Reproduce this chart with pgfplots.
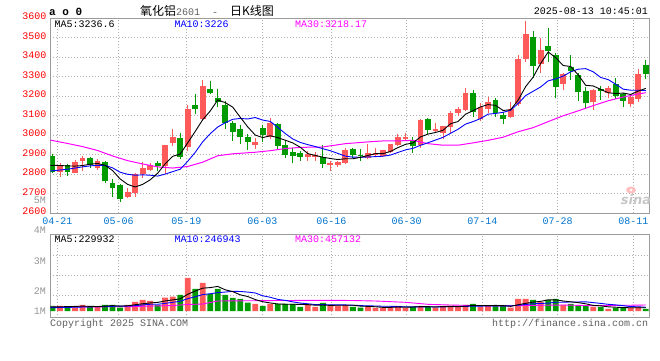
\documentclass[border=0pt]{standalone}
\usepackage{fontspec}
\usepackage{pgfplots}
\pgfplotsset{compat=1.18}
\usepackage{pgfplotstable}
\setmainfont{Liberation Mono}
\newfontfamily\mono{Liberation Mono}
\newfontfamily\cjk{Noto Sans CJK SC}
\newfontfamily\sansf{DejaVu Sans}
\newcommand\tf{\mono\fontsize{10}{12}\selectfont}
\definecolor{cred}{RGB}{255,90,90}
\definecolor{cgreen}{RGB}{0,155,0}
\definecolor{cblue}{RGB}{0,0,255}
\definecolor{cmag}{RGB}{255,0,255}
\definecolor{cdate}{RGB}{0,115,205}
\definecolor{cframe}{RGB}{155,155,155}
\definecolor{cgrid}{RGB}{175,175,175}
\definecolor{clab}{RGB}{150,150,150}
\definecolor{ccopy}{RGB}{95,95,95}

\pgfplotstableread{
i O H L C
1 2814 2860 2788 2848
3 2807 2872 2807 2865
4 2868 2894 2817 2885
6 2832 2877 2822 2868
10 2684 2731 2680 2708
11 2706 2805 2684 2800
12 2800 2863 2781 2831
13 2822 2860 2817 2846
15 2843 2949 2800 2949
16 2959 3031 2945 2993
18 2940 3154 2920 3133
20 3082 3282 3074 3251
27 2950 2988 2932 2964
29 2993 3091 2979 3065
34 2891 2920 2868 2903
35 2891 2916 2868 2897
37 2848 2868 2817 2860
38 2850 2868 2839 2863
39 2856 2933 2851 2923
42 2884 2957 2877 2908
43 2897 2933 2891 2908
44 2894 2923 2891 2923
45 2915 2954 2911 2954
46 2949 3005 2945 2991
47 2983 3010 2971 2991
49 2950 3082 2937 3077
51 3022 3062 3014 3031
52 3014 3048 2979 3048
53 3044 3125 3014 3113
54 3113 3147 3099 3133
55 3130 3244 3125 3215
57 3085 3164 3074 3147
58 3137 3198 3116 3171
61 3094 3171 3091 3137
62 3159 3410 3150 3393
63 3390 3586 3376 3518
65 3364 3497 3318 3436
68 3265 3321 3232 3316
72 3168 3236 3130 3232
74 3215 3253 3193 3244
77 3162 3202 3147 3197
78 3185 3338 3171 3313
}\redtab

\pgfplotstableread{
i O H L C
0 2894 2903 2805 2814
2 2848 2855 2791 2812
5 2882 2889 2834 2848
7 2863 2868 2757 2764
8 2754 2774 2684 2730
9 2745 2752 2658 2672
14 2860 2870 2817 2841
17 2985 3010 2877 2889
19 3154 3210 3108 3133
21 3236 3277 3210 3215
22 3193 3236 3147 3173
23 3154 3176 3034 3065
24 3065 3074 2971 3017
25 3031 3051 2954 2993
26 2993 3005 2925 2966
28 3036 3051 2966 3000
30 3056 3065 2925 2945
31 2949 2976 2885 2899
32 2915 2937 2856 2894
33 2908 2920 2868 2889
36 2891 2949 2834 2855
40 2928 2933 2885 2897
41 2899 2928 2868 2892
48 2976 2993 2911 2945
50 3082 3087 3005 3027
56 3215 3231 3094 3120
59 3179 3193 3096 3113
60 3103 3120 3056 3085
64 3504 3535 3291 3356
66 3458 3552 3378 3432
67 3410 3424 3193 3248
69 3350 3410 3284 3330
70 3309 3321 3176 3222
71 3227 3248 3142 3164
73 3239 3253 3181 3227
75 3262 3291 3185 3202
76 3210 3219 3145 3176
79 3359 3386 3287 3313
}\greentab

\pgfplotstableread{
i v
1 5.2
3 3.5
4 6.2
6 4.2
10 6.2
11 9.2
12 11.2
13 10.2
15 13.5
16 14.5
18 33.2
20 28.2
27 7.2
29 7.2
34 6.2
35 4.2
37 5.2
38 5.2
39 6.2
42 4.2
43 3.2
44 3.2
45 4.2
46 5.2
47 3.2
49 5.2
51 3.5
52 5.2
53 5.2
54 4.2
55 6.2
57 4.2
58 5.2
61 3.5
62 12.2
63 12.2
65 9.2
68 6.2
72 4.2
74 2.2
77 3.5
78 4.2
}\volred

\pgfplotstableread{
i v
0 5.2
2 4.2
5 4.2
7 6.2
8 6.2
9 3.5
14 6.2
17 16.2
19 22.2
21 17.2
22 22.2
23 16.2
24 13.2
25 12.2
26 8.5
28 5.2
30 7.2
31 7.2
32 7.2
33 4.2
36 8.2
40 4.2
41 3.5
48 4.2
50 4.2
56 7.2
59 5.2
60 5.2
64 11.2
66 11.2
67 12.2
69 7.2
70 5.2
71 5.2
73 4.2
75 3.2
76 3.2
79 2.2
}\volgreen

\pgfplotsset{
  kpanel/.style={
    scale only axis, width=599pt,
    xmin=-0.293, xmax=79.47,
    axis line style={draw=cframe, line width=1pt},
    xtick={0.64,8.81,17.82,27.96,37.15,47.16,57.23,67.27,77.34},
    tick style={draw=none},
    grid=major,
    major grid style={draw=cgrid, line width=0.8pt, dash pattern=on 1pt off 2pt},
  },
  wick/.style={draw=none, mark=none, forget plot,
    error bars/.cd, y dir=plus, y explicit, error mark=none,
    error bar style={draw=#1, line width=1pt, solid}},
  body/.style={draw=none, mark=none, forget plot,
    error bars/.cd, y dir=plus, y explicit, error mark=none,
    error bar style={draw=#1, line width=5.8pt, solid}},
}

\begin{document}
\begin{tikzpicture}
\useasboundingbox (0pt,0pt) rectangle (660pt,-360pt);

% ---------- price panel ----------
\begin{axis}[kpanel,
  at={(50.3pt,-213.3pt)}, anchor=south west,
  height=195.1pt,
  ymin=2600, ymax=3600,
  xticklabels={04-21,05-06,05-19,06-03,06-16,06-30,07-14,07-28,08-11},
  ytick={2600,2700,2800,2900,3000,3100,3200,3300,3400,3500,3600},
  yticklabels={2600,2700,2800,2900,3000,3100,3200,3300,3400,3500,3600},
  xticklabel style={font=\tf, text=cdate, yshift=-1pt},
  yticklabel style={font=\tf, text=red, yshift=1.8pt, xshift=-0.5pt},
]
\addplot[wick=cred] table[x=i, y=L, y error plus expr=\thisrow{H}-\thisrow{L}] {\redtab};
\addplot[wick=cgreen] table[x=i, y=L, y error plus expr=\thisrow{H}-\thisrow{L}] {\greentab};
\addplot[body=cred] table[x=i, y=O, y error plus expr=\thisrow{C}-\thisrow{O}] {\redtab};
\addplot[body=cgreen] table[x=i, y=C, y error plus expr=\thisrow{O}-\thisrow{C}] {\greentab};

% MA30
\addplot[cmag, line width=1pt, mark=none] coordinates {
(-0.4,2976) (2,2958) (4,2942) (6,2922) (8,2894) (10,2870) (12,2853) (14,2838) (16,2832)
(18,2840) (20,2862) (22,2895) (24,2905) (27,2913) (29,2921) (31,2932) (33,2938)
(36,2940) (39,2957) (42,2966) (44,2971) (46,2971) (48,2974) (50,2957) (52,2949)
(54,2949) (56,2961) (58,2974) (60,2990) (62,3018) (64,3039) (66,3070) (68,3100)
(70,3125) (72,3152) (74,3177) (76,3196) (78,3212) (79,3218)};
% MA10
\addplot[cblue, line width=0.9pt, mark=none] coordinates {
(-0.4,2817) (0,2818) (1,2822) (2,2826) (3,2832) (4,2838) (5,2843) (6,2846) (7,2846) (8,2833)
(9,2810.6) (10,2800) (11,2795.2) (12,2797.1) (13,2795.2) (14,2790.8) (15,2800.9)
(16,2813.4) (17,2825.9) (18,2866.2) (19,2912.3) (20,2966.6) (21,3008.1) (22,3042.3)
(23,3064.2) (24,3081.8) (25,3086.2) (26,3083.5) (27,3091) (28,3077.7) (29,3070.9)
(30,3040.3) (31,3008.7) (32,2980.8) (33,2963.2) (34,2951.8) (35,2942.2) (36,2931.1)
(37,2920.7) (38,2907) (39,2892.8) (40,2888) (41,2887.3) (42,2888.7) (43,2890.6)
(44,2892.6) (45,2898.3) (46,2911.9) (47,2925) (48,2933.2) (49,2948.6) (50,2961.6)
(51,2975.5) (52,2989.5) (53,3010) (54,3031) (55,3057.1) (56,3070) (57,3085.6)
(58,3108.2) (59,3111.8) (60,3117.6) (61,3128.2) (62,3162.7) (63,3203.2) (64,3225.5)
(65,3247.6) (66,3278.8) (67,3288.9) (68,3303.4) (69,3325.1) (70,3338.8) (71,3341.5)
(72,3325.4) (73,3296.3) (74,3285.1) (75,3261.7) (76,3236.1) (77,3231) (78,3230.7) (79,3229)};
% MA5
\addplot[black, line width=0.9pt, mark=none] coordinates {
(-0.4,2846) (0,2846) (1,2845) (2,2843) (3,2842) (4,2844.8) (5,2851.6) (6,2855.6) (7,2846)
(8,2819) (9,2776.4) (10,2748.4) (11,2734.8) (12,2748.2) (13,2771.4) (14,2805.2)
(15,2853.4) (16,2892) (17,2903.6) (18,2961) (19,3019.4) (20,3079.8) (21,3124.2)
(22,3181) (23,3167.4) (24,3144.2) (25,3092.6) (26,3042.8) (27,3001) (28,2988)
(29,2997.6) (30,2988) (31,2974.6) (32,2960.6) (33,2938.4) (34,2906) (35,2896.4)
(36,2887.6) (37,2880.8) (38,2875.6) (39,2879.6) (40,2879.6) (41,2887) (42,2896.6)
(43,2905.6) (44,2905.6) (45,2917) (46,2936.8) (47,2953.4) (48,2960.8) (49,2991.6)
(50,3006.2) (51,3014.2) (52,3025.6) (53,3059.2) (54,3070.4) (55,3108) (56,3125.8)
(57,3145.6) (58,3157.2) (59,3153.2) (60,3127.2) (61,3130.6) (62,3179.8) (63,3249.2)
(64,3297.8) (65,3368) (66,3427) (67,3398) (68,3357.6) (69,3352.4) (70,3309.6)
(71,3256) (72,3252.8) (73,3235) (74,3217.8) (75,3213.8) (76,3216.2) (77,3209.2)
(78,3226.4) (79,3240.2)};
\end{axis}

% ---------- volume panel ----------
\begin{axis}[kpanel,
  at={(50.3pt,-317.7pt)}, anchor=south west,
  height=83.4pt,
  ymin=-6.7, ymax=76.7,
  xticklabel=\empty,
  ytick={15.3,35.3,55.3}, yticklabel=\empty,
]
\addplot[ybar, bar width=5.8pt, bar shift=0pt, fill=cred, draw=none] table[x=i, y=v] {\volred};
\addplot[ybar, bar width=5.8pt, bar shift=0pt, fill=cgreen, draw=none] table[x=i, y=v] {\volgreen};
\addplot[cmag, line width=0.9pt, mark=none] coordinates {
(-0.4,4) (10,4.3) (16,5.5) (18,6.5) (20,7) (21,8.5) (22,10) (30,10.5) (37,10.7)
(40,10.5) (43,10) (47,8.7) (50,6.7) (53,6) (59,5) (63,5.5) (68,6) (72,5.3) (79,6)};
\addplot[cblue, line width=0.9pt, mark=none] coordinates {
(-0.4,3.3) (2,3.6) (4,4.0) (6,4.3) (8,4.7) (9,4.86) (10,4.96) (11,5.36) (12,6.06)
(13,6.73) (14,6.73) (15,7.66) (16,8.69) (17,9.69) (18,12.39) (19,14.26) (20,16.46)
(21,17.26) (22,18.36) (23,18.96) (24,19.66) (25,19.53) (26,18.93) (27,18.03)
(28,15.23) (29,13.73) (30,11.63) (31,10.63) (32,9.13) (33,7.93) (34,7.23) (35,6.43)
(36,6.4) (37,6.2) (38,6.2) (39,6.1) (40,5.8) (41,5.43) (42,5.13) (43,5.03) (44,4.73)
(45,4.73) (46,4.43) (47,4.23) (48,4.13) (49,4.03) (50,4.03) (51,4.03) (52,4.13)
(53,4.33) (54,4.43) (55,4.63) (56,4.83) (57,4.93) (58,5.03) (59,5.03) (60,5.13)
(61,5.13) (62,5.83) (63,6.53) (64,7.23) (65,7.53) (66,7.93) (67,8.73) (68,8.83)
(69,9.03) (70,9.03) (71,9.2) (72,8.4) (73,7.6) (74,6.7) (75,6.1) (76,5.3) (77,4.43)
(78,4.23) (79,3.73)};
\addplot[black, line width=0.9pt, mark=none] coordinates {
(-0.4,4.0) (0,4.0) (1,4.2) (2,4.4) (3,4.6) (4,4.86) (5,4.66) (6,4.46) (7,4.86) (8,5.4)
(9,4.86) (10,5.26) (11,6.26) (12,7.26) (13,8.06) (14,8.6) (15,10.06) (16,11.12)
(17,12.12) (18,16.72) (19,19.92) (20,22.86) (21,23.4) (22,24.6) (23,21.2) (24,19.4)
(25,16.2) (26,14.46) (27,11.46) (28,9.26) (29,8.06) (30,7.06) (31,6.8) (32,6.8)
(33,6.6) (34,6.4) (35,5.8) (36,6.0) (37,5.6) (38,5.8) (39,5.8) (40,5.8) (41,4.86)
(42,4.66) (43,4.26) (44,3.66) (45,3.66) (46,4.0) (47,3.8) (48,4.0) (49,4.4) (50,4.4)
(51,4.06) (52,4.46) (53,4.66) (54,4.46) (55,4.86) (56,5.6) (57,5.4) (58,5.4) (59,5.6)
(60,5.4) (61,4.66) (62,6.26) (63,7.66) (64,8.86) (65,9.66) (66,11.2) (67,11.2)
(68,10.0) (69,9.2) (70,8.4) (71,7.2) (72,5.6) (73,5.2) (74,4.2) (75,3.8) (76,3.4)
(77,3.26) (78,3.26) (79,3.26)};
\end{axis}

% ---------- texts ----------
\node[anchor=west, inner sep=0, font=\mono\bfseries\fontsize{11}{12}\selectfont] at (49pt,-11.7pt) {a o 0};
\node[anchor=west, inner sep=0] at (140pt,-11pt) {{\cjk\fontsize{12}{13}\selectfont 氧化铝}{\tf\color{ccopy}2601\ \ -\ \ }{\cjk\fontsize{12}{13}\selectfont 日K线图}};
\node[anchor=east, inner sep=0, font=\tf] at (648pt,-11.5pt) {2025-08-13 10:45:01};

\node[anchor=west, inner sep=0, font=\tf, text=black] at (54.3pt,-23.7pt) {MA5:3236.6};
\node[anchor=west, inner sep=0, font=\tf, text=cblue] at (174.3pt,-23.7pt) {MA10:3226};
\node[anchor=west, inner sep=0, font=\tf, text=cmag] at (295pt,-23.7pt) {MA30:3218.17};

\node[anchor=east, inner sep=0, font=\tf, text=clab] at (46pt,-200pt) {5M};
\node[anchor=east, inner sep=0, font=\tf, text=clab] at (46pt,-230.5pt) {4M};
\node[anchor=east, inner sep=0, font=\tf, text=clab] at (46pt,-260.7pt) {3M};
\node[anchor=east, inner sep=0, font=\tf, text=clab] at (46pt,-291pt) {2M};
\node[anchor=east, inner sep=0, font=\tf, text=clab] at (46pt,-311pt) {1M};

\node[anchor=west, inner sep=0, font=\tf, text=black] at (54.3pt,-238.7pt) {MA5:229932};
\node[anchor=west, inner sep=0, font=\tf, text=cblue] at (174.3pt,-238.7pt) {MA10:246943};
\node[anchor=west, inner sep=0, font=\tf, text=cmag] at (295pt,-238.7pt) {MA30:457132};

\node[anchor=west, inner sep=0, font=\tf, text=ccopy] at (50pt,-323.5pt) {Copyright 2025 SINA.COM};
\node[anchor=east, inner sep=0, font=\tf, text=ccopy] at (648.3pt,-324.3pt) {http://finance.sina.com.cn};

% watermark
\fill[red!25] (631pt,-190pt) ellipse (5pt and 3.5pt);
\fill[white] (631pt,-190pt) circle (1.5pt);
\node[anchor=center, inner sep=0, font=\sansf\bfseries\itshape\fontsize{13}{14}\selectfont, text=black!22] at (636pt,-200pt) {sina};
\end{tikzpicture}
\end{document}
